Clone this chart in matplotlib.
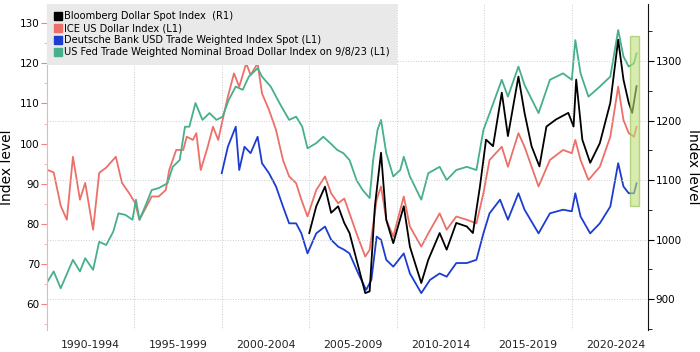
import matplotlib
matplotlib.use("Agg")
import matplotlib.pyplot as plt
from matplotlib.lines import Line2D
from matplotlib.patches import Rectangle
from matplotlib.ticker import MultipleLocator, FixedLocator, NullFormatter

# values (decimal years)
ice_t = [1990.0, 1990.4, 1990.8, 1991.15, 1991.5, 1991.9, 1992.2, 1992.65, 1993.0, 1993.4,
         1993.95, 1994.3, 1994.7, 1995.05, 1995.3, 1995.7, 1996.0, 1996.4, 1996.8, 1997.0,
         1997.4, 1997.8, 1998.0, 1998.35, 1998.55, 1998.8, 1999.2, 1999.5, 1999.8, 2000.05,
         2000.35, 2000.7, 2001.0, 2001.4, 2001.65, 2002.05, 2002.3, 2002.7, 2003.1, 2003.5,
         2003.85, 2004.25, 2004.55, 2004.9, 2005.4, 2005.9, 2006.25, 2006.65, 2007.0, 2007.3,
         2007.7, 2008.2, 2008.45, 2008.85, 2009.1, 2009.4, 2009.8, 2010.4, 2010.75, 2011.4,
         2011.8, 2012.45, 2012.85, 2013.4, 2014.0, 2014.55, 2014.95, 2015.3, 2016.0, 2016.35,
         2016.95, 2017.3, 2018.1, 2018.75, 2019.5, 2020.0, 2020.2, 2020.5, 2020.95, 2021.6,
         2022.2, 2022.65, 2022.95, 2023.25, 2023.55, 2023.7]
ice_v = [93.5, 92.8, 84.5, 81.0, 96.7, 86.0, 90.2, 78.5, 92.7, 94.0,
         96.7, 90.2, 87.7, 85.2, 81.0, 84.3, 86.8, 86.8, 88.4, 93.4,
         98.4, 98.4, 101.7, 100.9, 102.6, 93.4, 99.2, 104.2, 100.9, 105.9,
         111.7, 117.5, 114.2, 120.0, 117.1, 120.0, 112.5, 108.4, 103.4, 95.9,
         91.8, 90.1, 86.0, 81.8, 88.4, 91.8, 87.6, 85.1, 86.3, 82.6,
         77.6, 71.8, 73.5, 86.0, 89.3, 81.0, 76.8, 86.8, 79.3, 74.3,
         77.6, 82.6, 78.5, 81.8, 81.0, 80.1, 87.6, 95.9, 99.2, 94.2,
         102.6, 99.2, 89.3, 95.9, 98.4, 97.6, 100.9, 95.9, 90.9, 94.2,
         101.7, 114.2, 105.9, 102.6, 101.7, 104.2]

fed_t = [1990.0, 1990.4, 1990.8, 1991.5, 1991.9, 1992.2, 1992.65, 1993.0, 1993.4, 1993.8,
         1994.1, 1994.5, 1994.9, 1995.1, 1995.3, 1995.7, 1996.0, 1996.4, 1996.9, 1997.2,
         1997.6, 1997.9, 1998.15, 1998.5, 1998.9, 1999.3, 1999.7, 2000.05, 2000.4, 2000.8,
         2001.2, 2001.55, 2002.05, 2002.3, 2002.8, 2003.3, 2003.85, 2004.25, 2004.6, 2004.9,
         2005.4, 2005.8, 2006.2, 2006.6, 2006.95, 2007.3, 2007.7, 2008.05, 2008.45, 2008.65,
         2008.9, 2009.1, 2009.4, 2009.8, 2010.2, 2010.4, 2010.75, 2011.4, 2011.8, 2012.45,
         2012.85, 2013.4, 2014.0, 2014.55, 2014.95, 2015.3, 2016.0, 2016.35, 2016.95, 2017.3,
         2018.1, 2018.75, 2019.5, 2020.0, 2020.2, 2020.5, 2020.95, 2021.6, 2022.2, 2022.65,
         2022.95, 2023.25, 2023.55, 2023.7]
fed_v = [65.2, 68.1, 63.9, 71.0, 68.1, 71.4, 68.5, 75.5, 74.7, 78.0,
         82.6, 82.2, 81.0, 86.0, 81.0, 85.1, 88.4, 88.9, 90.1, 94.2,
         95.9, 104.2, 104.2, 110.1, 105.9, 107.6, 105.9, 106.7, 110.9, 114.2,
         113.4, 116.7, 118.8, 116.7, 114.2, 110.1, 105.9, 106.7, 104.2, 98.8,
         100.1, 101.7, 100.1, 98.4, 97.6, 95.9, 90.9, 88.4, 86.4, 95.9,
         103.4, 105.9, 97.6, 91.8, 93.4, 96.7, 91.8, 86.0, 92.6, 94.2,
         90.9, 93.4, 94.2, 93.4, 103.4, 107.5, 115.9, 111.7, 119.2, 114.6,
         107.6, 115.9, 117.5, 115.9, 125.8, 117.5, 111.7, 114.2, 116.7, 128.3,
         121.7, 119.2, 120.0, 122.5]

db_t = [2000.0, 2000.35, 2000.8, 2001.0, 2001.3, 2001.65, 2002.05, 2002.3, 2002.7, 2003.1,
        2003.5, 2003.85, 2004.25, 2004.55, 2004.9, 2005.4, 2005.9, 2006.25, 2006.65, 2007.0,
        2007.3, 2007.8, 2008.25, 2008.55, 2008.85, 2009.1, 2009.4, 2009.8, 2010.4, 2010.75,
        2011.4, 2011.9, 2012.45, 2012.85, 2013.4, 2014.0, 2014.55, 2014.95, 2015.3, 2015.9,
        2016.35, 2016.95, 2017.3, 2018.1, 2018.75, 2019.5, 2020.0, 2020.2, 2020.5, 2021.05,
        2021.6, 2022.2, 2022.65, 2022.95, 2023.25, 2023.55, 2023.7]
db_v = [92.6, 99.2, 104.2, 93.4, 99.2, 97.6, 101.7, 95.1, 92.6, 89.3,
        84.3, 80.1, 80.1, 77.6, 72.6, 77.6, 79.3, 76.0, 74.3, 73.5,
        72.6, 67.6, 63.5, 66.0, 76.8, 76.0, 71.0, 69.3, 72.6, 67.6,
        62.7, 66.0, 67.6, 66.8, 70.2, 70.2, 71.0, 77.6, 82.6, 86.0,
        81.0, 87.6, 83.5, 77.6, 82.6, 83.5, 83.1, 87.6, 81.8, 77.6,
        80.1, 84.3, 95.1, 89.3, 87.6, 87.6, 90.1]

bbdxy_t = [2005.0, 2005.4, 2005.9, 2006.25, 2006.65, 2007.0, 2007.3, 2007.8, 2008.2, 2008.45,
           2008.75, 2009.1, 2009.4, 2009.8, 2010.4, 2010.75, 2011.4, 2011.8, 2012.45, 2012.85,
           2013.4, 2014.0, 2014.35, 2014.75, 2015.1, 2015.5, 2016.0, 2016.35, 2016.95, 2017.3,
           2017.7, 2018.15, 2018.55, 2019.1, 2019.8, 2020.1, 2020.25, 2020.6, 2021.05, 2021.6,
           2022.2, 2022.65, 2022.95, 2023.25, 2023.45, 2023.7]
bbdxy_v = [1011, 1056, 1089, 1045, 1056, 1028, 1011, 955, 910, 913,
           1056, 1146, 1033, 994, 1056, 988, 927, 966, 1011, 983,
           1028, 1022, 1011, 1089, 1168, 1157, 1247, 1174, 1274, 1213,
           1157, 1123, 1190, 1202, 1213, 1190, 1269, 1168, 1129, 1162,
           1230, 1336, 1269, 1230, 1213, 1258]

period_labels = ["1990-1994", "1995-1999", "2000-2004", "2005-2009",
                 "2010-2014", "2015-2019", "2020-2024"]
labels = ["Bloomberg Dollar Spot Index  (R1)", "ICE US Dollar Index (L1)",
          "Deutsche Bank USD Trade Weighted Index Spot (L1)",
          "US Fed Trade Weighted Nominal Broad Dollar Index on 9/8/23 (L1)"]

BLACK = "#000000"
RED = "#ec7068"
BLUE = "#1c3dd0"
GREEN = "#46b08a"

plt.rcParams["font.family"] = "DejaVu Sans"

fig = plt.figure(figsize=(7, 3.52), dpi=100)
ax = fig.add_axes([0.0667, 0.0625, 0.8597, 0.9261])
ax2 = ax.twinx()

ax.plot(ice_t, ice_v, color=RED, lw=1.3)
ax.plot(db_t, db_v, color=BLUE, lw=1.3)
ax.plot(fed_t, fed_v, color=GREEN, lw=1.3)
ax2.plot(bbdxy_t, bbdxy_v, color=BLACK, lw=1.3)

ax.set_xlim(1990.0, 2024.38)
ax.set_ylim(53.5, 134.8)
ax2.set_ylim(848, 1396)

# x axis: gridlines at 5-year boundaries, labels centred between them
ax.xaxis.set_major_locator(FixedLocator([1995, 2000, 2005, 2010, 2015, 2020]))
ax.xaxis.set_major_formatter(NullFormatter())
centres = [1992.5 + 5 * i for i in range(len(period_labels))]
ax.set_xticks(centres, period_labels, minor=True)
ax.tick_params(axis="x", which="both", length=0, pad=7, labelsize=7.8, colors="#222222")
ax.grid(axis="x", which="major", color="#cccccc", ls=":", lw=0.7)

# left axis
ax.yaxis.set_major_locator(MultipleLocator(10))
ax.yaxis.set_minor_locator(MultipleLocator(5))
ax.tick_params(axis="y", which="major", length=4, color="#f08080", labelsize=7.5, pad=1)
ax.tick_params(axis="y", which="minor", length=2.5, color="#f4a8a8")
ax.set_ylabel("Index level", fontsize=10, labelpad=4)

# right axis
ax2.yaxis.set_major_locator(MultipleLocator(100))
ax2.yaxis.set_minor_locator(MultipleLocator(50))
ax2.tick_params(axis="y", which="major", length=4, labelsize=7.5, pad=1)
ax2.tick_params(axis="y", which="minor", length=3)
ax2.set_ylabel("Index level", fontsize=10, rotation=270, labelpad=13)
ax2.grid(axis="y", which="major", color="#cccccc", ls=":", lw=0.7)

for a in (ax, ax2):
    a.spines["top"].set_visible(False)
    a.spines["bottom"].set_visible(False)
ax.spines["right"].set_visible(False)
ax2.spines["left"].set_visible(False)
ax.spines["left"].set_color("#f6b0b0")
ax2.spines["right"].set_color("#111111")

# highlight of the latest months
ax2.add_patch(Rectangle((2023.30, 1057), 0.54, 286, facecolor="#bfe07a", alpha=0.6,
                        edgecolor="#8cc04a", lw=1, zorder=5))

handles = [Line2D([], [], ls="none", marker="s", ms=6, color=c)
           for c in (BLACK, RED, BLUE, GREEN)]
leg = ax2.legend(handles, labels, loc="upper left", bbox_to_anchor=(0, 1), borderaxespad=0,
                 fontsize=7.1, frameon=True, fancybox=False, facecolor="#e9e9e9",
                 edgecolor="none", framealpha=1, handlelength=0.7, handletextpad=0.3,
                 labelspacing=0.2, borderpad=0.75)
leg.set_zorder(10)

fig.savefig("out.png", dpi=100)
